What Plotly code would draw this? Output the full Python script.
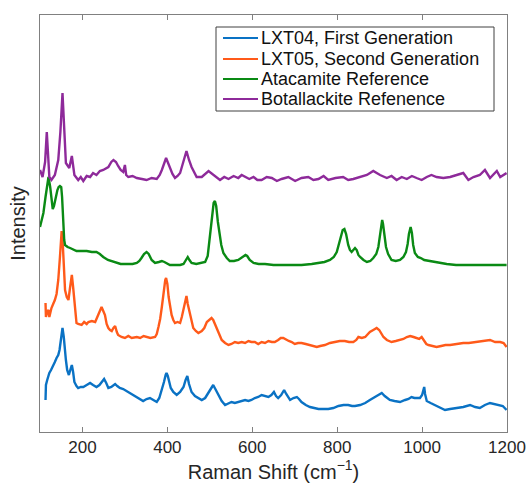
import plotly.graph_objects as go

# ---- data (Raman shift in cm^-1, intensity in arbitrary stacked units) ----
bot_x = [100, 106, 112, 116, 120, 122, 127, 135, 143, 148, 153, 157, 161, 169, 175, 181, 190, 196, 202, 210, 218, 225, 233, 241, 249, 261, 268, 273, 279, 284, 290, 296, 300, 303, 308, 318, 328, 340, 351, 363, 375, 382, 387, 397, 406, 412, 418, 424, 430, 438, 445, 451, 457, 469, 481, 497, 508, 516, 524, 534, 544, 556, 567, 575, 583, 593, 603, 612, 622, 634, 646, 658, 669, 685, 701, 716, 732, 744, 756, 768, 779, 796, 814, 826, 838, 854, 870, 885, 901, 917, 928, 940, 952, 964, 976, 987, 999, 1011, 1022, 1034, 1050, 1066, 1081, 1097, 1109, 1121, 1136, 1148, 1160, 1176, 1184, 1199]
bot_y = [262, 255, 270, 300, 270, 255, 252, 257, 272, 300, 339, 300, 269, 264, 276, 257, 252, 255, 251, 256, 255, 259, 257, 261, 262, 265, 270, 272, 270, 266, 262, 260, 267, 257, 255, 256, 254, 253, 252, 254, 253, 257, 262, 274, 264, 258, 254, 256, 259, 270, 281, 272, 265, 255, 255, 261, 257, 254, 252, 255, 253, 256, 254, 257, 255, 253, 255, 252, 252, 255, 254, 251, 253, 255, 251, 254, 255, 252, 253, 256, 252, 254, 255, 252, 253, 255, 257, 261, 257, 254, 256, 252, 255, 253, 256, 254, 252, 255, 257, 255, 254, 255, 257, 259, 252, 255, 257, 262, 254, 261, 255, 259]

ata_x = [100, 104, 108, 113, 117, 120, 124, 127, 130, 133, 135, 138, 141, 144, 147, 150, 152, 155, 157, 159, 165, 171, 186, 200, 210, 222, 233, 241, 249, 260, 273, 290, 304, 318, 328, 334, 339, 345, 351, 356, 363, 371, 380, 387, 393, 398, 406, 414, 430, 438, 444, 448, 452, 457, 468, 477, 489, 495, 500, 505, 509, 512, 515, 519, 522, 527, 532, 540, 547, 557, 567, 575, 580, 584, 588, 594, 603, 615, 630, 650, 669, 690, 716, 740, 756, 770, 783, 792, 799, 804, 808, 813, 817, 821, 826, 830, 834, 838, 842, 846, 850, 854, 862, 870, 878, 885, 892, 897, 901, 904, 906, 908, 911, 915, 920, 928, 938, 948, 956, 962, 966, 969, 973, 976, 979, 983, 990, 997, 1005, 1019, 1040, 1058, 1080, 1105, 1150, 1199]
ata_y = [205, 212, 219, 235, 250, 255, 245, 232, 223, 226, 229, 236, 242, 245, 246, 245, 235, 202, 192, 187, 185, 184, 181, 181, 181, 180, 180, 178, 175, 172, 170, 168, 168, 168, 169, 171, 174, 178, 180, 178, 172, 169, 170, 171, 170, 169, 167, 167, 167, 168, 172, 175, 172, 169, 168, 169, 170, 176, 195, 215, 229, 231, 226, 210, 199, 187, 179, 174, 171, 171, 172, 174, 176, 177, 176, 172, 169, 168, 168, 167, 167, 167, 167, 168, 169, 170, 172, 175, 180, 187, 195, 202, 203, 198, 187, 182, 180, 182, 184, 182, 177, 175, 172, 170, 171, 174, 178, 185, 196, 207, 212, 208, 196, 185, 178, 172, 171, 172, 175, 180, 188, 198, 205, 199, 187, 179, 175, 174, 172, 171, 169, 168, 167, 167, 167, 167]

lxt05_x = [113, 114, 117, 120, 122, 125, 127, 131, 135, 139, 143, 147, 151, 154, 157, 159, 163, 167, 171, 175, 178, 181, 184, 186, 190, 198, 204, 210, 214, 222, 230, 237, 241, 245, 249, 253, 257, 261, 265, 269, 273, 277, 281, 284, 292, 300, 308, 316, 328, 336, 344, 351, 360, 371, 375, 379, 383, 387, 391, 395, 397, 400, 403, 406, 410, 414, 418, 424, 430, 434, 438, 442, 445, 448, 453, 457, 461, 467, 473, 481, 487, 493, 499, 504, 508, 512, 516, 522, 528, 536, 544, 551, 559, 567, 575, 583, 591, 598, 606, 614, 622, 630, 638, 646, 653, 661, 667, 673, 680, 686, 693, 700, 708, 716, 726, 736, 744, 752, 760, 771, 783, 795, 806, 818, 828, 838, 845, 850, 858, 866, 872, 877, 885, 893, 899, 904, 909, 917, 928, 938, 948, 956, 964, 972, 980, 987, 993, 999, 1005, 1010, 1015, 1024, 1034, 1045, 1055, 1066, 1080, 1097, 1110, 1129, 1145, 1160, 1172, 1184, 1192, 1199]
lxt05_y = [129, 115, 120, 122, 115, 122, 124, 128, 132, 138, 152, 175, 201, 185, 160, 142, 135, 132, 145, 157, 145, 129, 115, 109, 108, 107, 110, 108, 110, 111, 110, 117, 122, 125, 121, 117, 108, 104, 102, 101, 104, 106, 100, 97, 95, 94, 96, 94, 95, 94, 96, 95, 94, 95, 98, 105, 113, 125, 140, 152, 154, 148, 135, 125, 117, 112, 109, 110, 109, 115, 122, 132, 136, 128, 119, 110, 104, 101, 99, 101, 104, 110, 112, 114, 112, 108, 104, 97, 92, 89, 87, 88, 90, 89, 90, 89, 91, 90, 90, 88, 90, 89, 91, 90, 90, 92, 94, 94, 92, 91, 90, 88, 89, 89, 88, 87, 86, 85, 86, 87, 89, 90, 91, 91, 90, 90, 92, 95, 94, 95, 98, 100, 102, 104, 102, 99, 95, 92, 90, 91, 92, 93, 95, 96, 95, 94, 93, 95, 91, 88, 87, 86, 85, 86, 87, 87, 88, 89, 89, 90, 91, 92, 90, 90, 89, 85]

lxt04_x = [113, 114, 117, 122, 126, 130, 135, 139, 143, 146, 149, 153, 156, 158, 161, 164, 168, 172, 175, 178, 181, 186, 190, 196, 202, 210, 218, 225, 233, 240, 246, 251, 256, 261, 268, 273, 277, 282, 288, 296, 308, 318, 328, 336, 343, 351, 359, 367, 375, 381, 387, 392, 396, 398, 401, 404, 408, 414, 422, 430, 434, 438, 443, 447, 451, 457, 465, 473, 481, 489, 497, 503, 508, 513, 520, 528, 536, 544, 551, 559, 567, 575, 583, 591, 598, 606, 614, 622, 630, 638, 645, 651, 656, 661, 668, 675, 680, 685, 689, 697, 705, 710, 716, 726, 736, 746, 756, 768, 779, 791, 803, 815, 826, 835, 842, 854, 866, 877, 890, 900, 905, 912, 918, 924, 935, 948, 960, 968, 975, 982, 990, 995, 1000, 1003, 1005, 1007, 1011, 1020, 1030, 1042, 1054, 1066, 1081, 1097, 1113, 1125, 1136, 1148, 1160, 1170, 1180, 1190, 1199]
lxt04_y = [32, 47, 52, 59, 62, 65, 70, 74, 77, 82, 92, 104, 95, 82, 72, 62, 57, 63, 67, 60, 50, 46, 44, 45, 45, 47, 49, 47, 45, 47, 50, 53, 49, 44, 45, 47, 48, 46, 44, 43, 40, 38, 35, 33, 31, 33, 34, 32, 30, 34, 42, 50, 57, 59, 56, 50, 44, 40, 37, 40, 42, 45, 52, 56, 48, 40, 36, 34, 32, 34, 40, 44, 47, 43, 37, 31, 27, 29, 30, 29, 30, 31, 32, 31, 32, 34, 35, 37, 36, 35, 37, 40, 36, 34, 37, 42, 38, 34, 32, 34, 35, 33, 30, 27, 25, 24, 23, 23, 23, 24, 26, 27, 27, 26, 26, 27, 29, 32, 35, 37, 39, 36, 34, 32, 31, 30, 32, 33, 35, 34, 34, 34, 37, 41, 45, 38, 31, 29, 27, 24, 22, 23, 24, 25, 27, 25, 24, 27, 29, 28, 27, 26, 22]

names = ["LXT04, First Generation", "LXT05, Second Generation",
         "Atacamite Reference", "Botallackite Refenence"]
colors = ["#0a72c4", "#ff5a1a", "#0a8a14", "#8e2a9a"]
x_ticks = [200, 400, 600, 800, 1000, 1200]

FONT = "Liberation Sans, Arial, Helvetica, sans-serif"

# layout geometry (pixels)
W, H = 527, 483
L, R, T, B = 40, 20, 15, 51
PW, PH = W - L - R, H - T - B


def pxx(px):
    return (px - L) / PW


def pxy(py):
    return (H - B - py) / PH


fig = go.Figure()
for xs, ys, nm, c in zip([lxt04_x, lxt05_x, ata_x, bot_x],
                         [lxt04_y, lxt05_y, ata_y, bot_y], names, colors):
    fig.add_trace(go.Scatter(x=xs, y=ys, mode="lines", name=nm,
                             line=dict(color=c, width=2.4), showlegend=False))

# legend drawn as box + line samples + text
shapes = [dict(type="rect", xref="paper", yref="paper",
               x0=pxx(216), x1=pxx(494), y0=pxy(111), y1=pxy(27),
               line=dict(color="#404040", width=1), fillcolor="white", layer="above")]
annotations = []
row_y = [38, 59, 79, 99]
for nm, c, ry in zip(names, colors, row_y):
    shapes.append(dict(type="line", xref="paper", yref="paper",
                       x0=pxx(223), x1=pxx(258), y0=pxy(ry), y1=pxy(ry),
                       line=dict(color=c, width=1.8), layer="above"))
    annotations.append(dict(xref="paper", yref="paper", x=pxx(259), y=pxy(ry),
                            xanchor="left", yanchor="middle", showarrow=False,
                            text=nm, font=dict(size=18, family=FONT, color="#111111")))

axcol = "#808080"
fig.update_layout(
    width=W, height=H,
    margin=dict(l=L, r=R, t=T, b=B, autoexpand=False),
    paper_bgcolor="white", plot_bgcolor="white",
    font=dict(family=FONT, color="#262626"),
    showlegend=False,
    shapes=shapes, annotations=annotations,
    xaxis=dict(range=[100, 1200], tickvals=x_ticks, ticks="inside", ticklen=5,
               tickcolor=axcol, showline=True, linecolor=axcol, linewidth=1,
               mirror="ticks", showgrid=False, zeroline=False, automargin=False,
               ticklabeloverflow="allow",
               tickfont=dict(size=17, family=FONT, color="#262626"),
               title=dict(text="Raman Shift (cm<sup>−1</sup>)", standoff=4,
                          font=dict(size=20, family=FONT, color="#262626"))),
    yaxis=dict(range=[0, 417], showticklabels=False, ticks="",
               showline=True, linecolor=axcol, linewidth=1, mirror=True,
               showgrid=False, zeroline=False, automargin=False,
               title=dict(text="Intensity", standoff=8,
                          font=dict(size=20, family=FONT, color="#262626"))),
)

fig.write_html("out.html", config={"displayModeBar": False},
               post_script="document.body.style.margin='0';")
